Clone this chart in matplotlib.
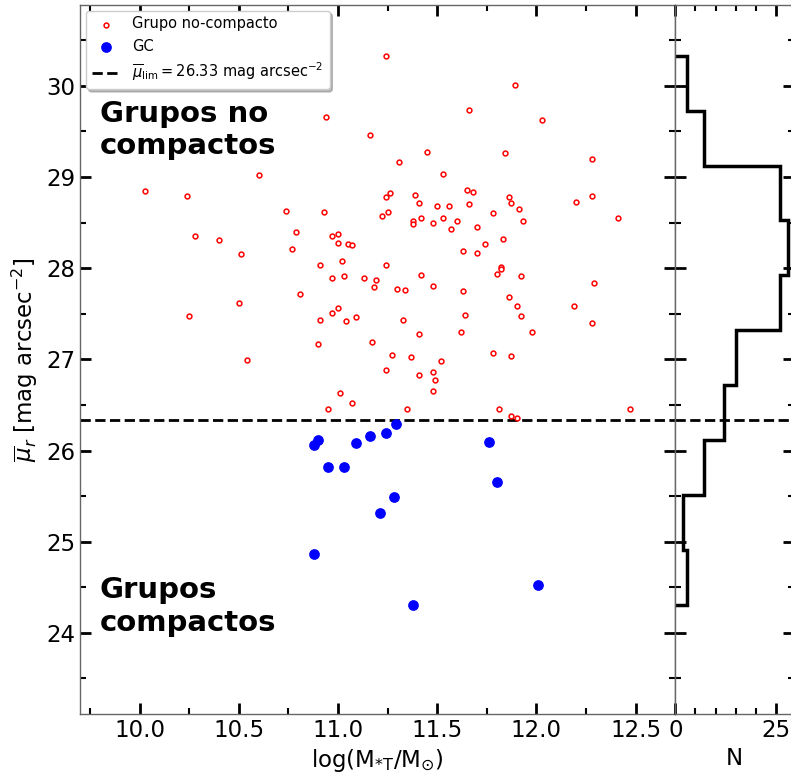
import numpy as np
import matplotlib.pyplot as plt
from matplotlib.ticker import MultipleLocator

# grupos no compactos: log masa estelar total y brillo superficial medio
nc_logm = [11.24, 11.89, 10.94, 11.66, 12.03, 11.16,
           10.03, 10.24, 10.60, 10.28, 10.40, 10.51, 10.25, 10.50, 10.54,
           10.74, 10.79, 10.77, 10.93, 11.00, 10.97, 11.00, 11.05, 11.07,
           11.02, 10.91, 10.97, 11.03, 11.13, 11.19, 11.18, 10.81, 11.00,
           10.97, 10.91, 11.04, 11.09, 10.90, 11.17, 11.01, 11.07, 10.95,
           11.45, 11.84, 12.28, 11.31, 11.53, 11.26, 11.24, 11.39, 11.41,
           11.65, 11.68, 11.66, 11.50, 11.56, 11.86, 11.87, 11.91, 12.28,
           12.20, 11.25, 11.22, 11.38, 11.38, 11.42, 11.48, 11.53, 11.60,
           11.57, 11.70, 11.78, 11.93, 12.41, 11.83, 11.74, 11.63, 11.70,
           11.24, 11.42, 11.30, 11.34, 11.48, 11.63, 11.82, 11.82, 11.80,
           11.92, 12.29, 11.86, 11.90, 11.92, 11.98, 12.19, 12.28, 11.64,
           11.33, 11.41, 11.62, 11.27, 11.37, 11.52, 11.24, 11.41, 11.48,
           11.49, 11.48, 11.78, 11.87, 11.35, 11.81, 11.87, 11.90, 12.47]
nc_mu = [30.33, 30.01, 29.66, 29.74, 29.62, 29.46,
         28.85, 28.79, 29.02, 28.35, 28.31, 28.16, 27.48, 27.62, 26.99,
         28.63, 28.40, 28.21, 28.62, 28.38, 28.35, 28.28, 28.27, 28.25,
         28.08, 28.03, 27.89, 27.91, 27.89, 27.87, 27.79, 27.72, 27.56,
         27.51, 27.43, 27.42, 27.46, 27.17, 27.19, 26.63, 26.52, 26.45,
         29.27, 29.26, 29.20, 29.16, 29.03, 28.82, 28.78, 28.80, 28.72,
         28.86, 28.84, 28.70, 28.68, 28.68, 28.78, 28.72, 28.65, 28.79,
         28.73, 28.62, 28.57, 28.52, 28.48, 28.55, 28.50, 28.55, 28.52,
         28.43, 28.45, 28.60, 28.52, 28.55, 28.32, 28.26, 28.19, 28.17,
         28.04, 27.93, 27.77, 27.76, 27.81, 27.75, 28.01, 27.99, 27.94,
         27.91, 27.84, 27.68, 27.58, 27.48, 27.30, 27.59, 27.40, 27.49,
         27.43, 27.28, 27.30, 27.05, 27.03, 26.98, 26.88, 26.83, 26.86,
         26.77, 26.65, 27.07, 27.04, 26.46, 26.45, 26.38, 26.36, 26.46]

# grupos compactos (GC)
gc_logm = [10.88, 10.90, 10.95, 11.03, 11.09, 11.16, 11.24, 11.29,
           11.76, 11.80, 11.28, 11.21, 12.01, 11.38, 10.88]
gc_mu = [26.06, 26.11, 25.82, 25.82, 26.08, 26.16, 26.19, 26.29,
         26.09, 25.65, 25.49, 25.32, 24.52, 24.31, 24.87]

mu_lim = 26.33

fig = plt.figure(figsize=(7.91, 7.76), dpi=100)
ax = fig.add_axes([80 / 791, 62 / 776, 595.3 / 791, 709.3 / 776])
axh = fig.add_axes([675.3 / 791, 62 / 776, 119 / 791, 709.3 / 776], sharey=ax)

ax.scatter(nc_logm, nc_mu, s=12, facecolor='white', edgecolor='red',
           linewidth=1.1, label='Grupo no-compacto', zorder=3)
ax.scatter(gc_logm, gc_mu, s=45, color='blue', label='GC', zorder=3)
ax.axhline(mu_lim, color='black', ls='--', lw=2,
           label=r'$\overline{\mu}_{\rm lim} = 26.33$ mag arcsec$^{-2}$')

ax.text(9.80, 29.85, 'Grupos no\ncompactos', fontsize=21, fontweight='bold', va='top')
ax.text(9.80, 24.62, 'Grupos\ncompactos', fontsize=21, fontweight='bold', va='top')

ax.set_xlim(9.7, 12.7)
ax.set_ylim(23.11, 30.89)
ax.xaxis.set_major_locator(MultipleLocator(0.5))
ax.xaxis.set_minor_locator(MultipleLocator(0.25))
ax.yaxis.set_major_locator(MultipleLocator(1))
ax.yaxis.set_minor_locator(MultipleLocator(0.5))
ax.set_xlabel(r'log(M$_{*\rm T}$/M$_{\odot}$)', fontsize=16.5)
ax.set_ylabel(r'$\overline{\mu}_r$ [mag arcsec$^{-2}$]', fontsize=16.5)
ax.legend(loc='upper left', fontsize=10.5, borderaxespad=0.4,
          shadow={'color': '0.55', 'alpha': 0.6})

# histograma de brillo superficial (todos los grupos)
all_mu = np.concatenate([nc_mu, gc_mu])
axh.hist(all_mu, bins=10, orientation='horizontal', histtype='step',
         color='black', lw=2.5)
axh.axhline(mu_lim, color='black', ls='--', lw=2)
axh.set_xlim(0, 29.5)
axh.xaxis.set_major_locator(MultipleLocator(25))
axh.xaxis.set_minor_locator(MultipleLocator(5))
axh.set_xlabel('N', fontsize=16.5)

for a in (ax, axh):
    a.tick_params(which='both', direction='in', top=True, right=True, left=True,
                  labelsize=16.5)
    a.tick_params(which='major', length=8, width=2)
    a.tick_params(which='minor', length=4, width=1.5)
    for sp in a.spines.values():
        sp.set_color('0.4')
        sp.set_linewidth(1)
axh.tick_params(labelleft=False)

fig.savefig('out.png', dpi=100)
